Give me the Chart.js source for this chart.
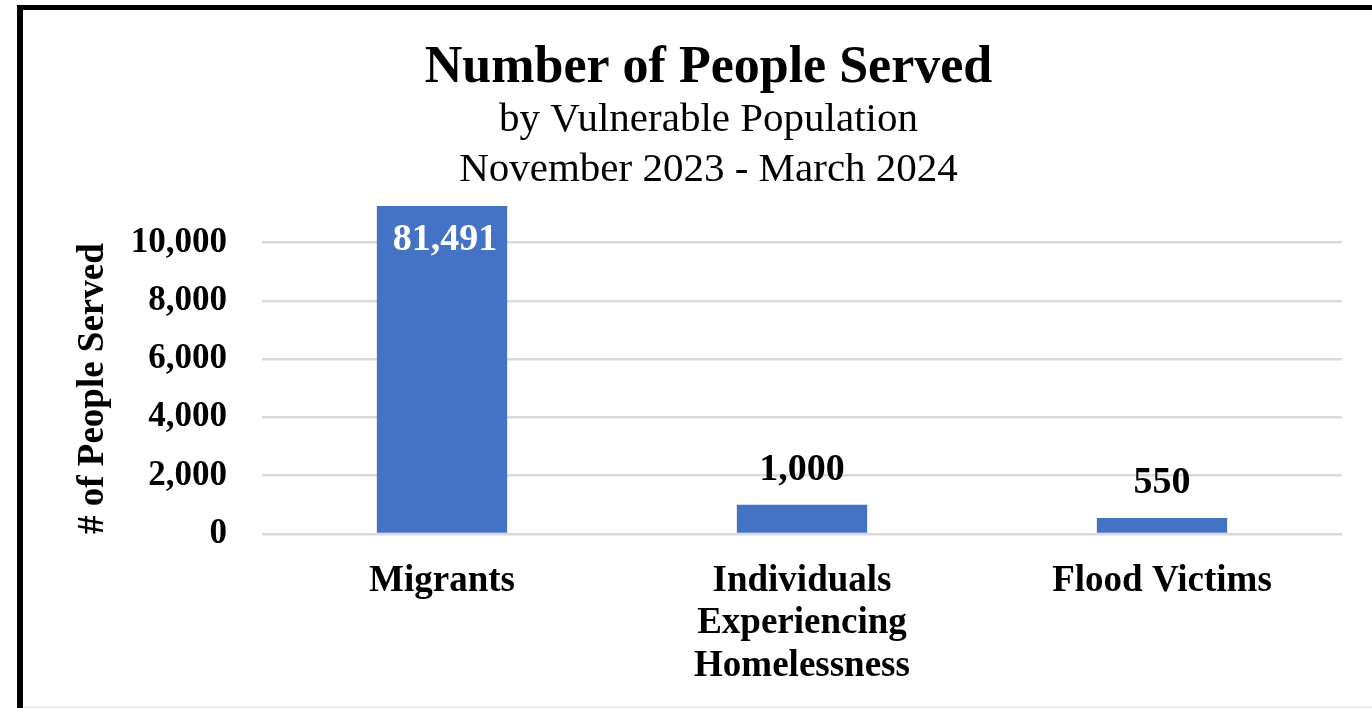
<!DOCTYPE html>
<html>
<head>
<meta charset="utf-8">
<title>Number of People Served</title>
<script src="https://cdn.jsdelivr.net/npm/chart.js@4/dist/chart.umd.min.js"></script>
<style>
  html, body { margin: 0; padding: 0; background: #fff; }
  canvas { display: block; }
</style>
</head>
<body>
<canvas id="grafica" width="1372" height="708"></canvas>
<script>
// Datos del gráfico
const categorias = ['Migrants', ['Individuals', 'Experiencing', 'Homelessness'], 'Flood Victims'];
const personasAtendidas = [81491, 1000, 550];
const marcasEje = [0, 2000, 4000, 6000, 8000, 10000];
const ejeMax = 11250;      // el eje se corta: la barra de Migrants sobrepasa el área

const tituloPrincipal = 'Number of People Served';
const subtitulo = ['by Vulnerable Population', 'November 2023 - March 2024'];
const tituloEjeY = '# of People Served';

const fuente = "'Liberation Serif', 'Times New Roman', serif";
const azul = '#4472C4';

// Marco negro (izquierda y arriba) y fondo blanco
const marco = {
    id: 'marco',
    beforeDraw(chart) {
        const ctx = chart.ctx;
        ctx.save();
        ctx.fillStyle = '#fff';
        ctx.fillRect(0, 0, chart.width, chart.height);
        ctx.fillStyle = '#000';
        ctx.fillRect(17, 5, 6, chart.height - 5);
        ctx.fillRect(17, 5, chart.width - 17, 5);
        ctx.fillStyle = '#ececec';
        ctx.fillRect(23, chart.height - 2, chart.width - 23, 2);
        ctx.restore();
    }
};

// Etiquetas de valor sobre cada barra (dentro si la barra se sale del eje)
const etiquetasValor = {
    id: 'etiquetasValor',
    afterDatasetsDraw(chart) {
        const ctx = chart.ctx;
        const meta = chart.getDatasetMeta(0);
        const yScale = chart.scales.y;
        ctx.save();
        ctx.font = 'bold 38px ' + fuente;
        ctx.textAlign = 'center';
        ctx.textBaseline = 'alphabetic';
        meta.data.forEach((barra, i) => {
            const valor = chart.data.datasets[0].data[i];
            const texto = valor.toLocaleString('en-US');
            if (valor > yScale.max) {
                ctx.fillStyle = '#fff';
                ctx.fillText(texto, barra.x + 3, chart.chartArea.top + 44);
            } else {
                ctx.fillStyle = '#000';
                ctx.fillText(texto, barra.x, barra.y - 25);
            }
        });
        ctx.restore();
    }
};

const canvas = document.getElementById('grafica');
new Chart(canvas, {
    type: 'bar',
    data: {
        labels: categorias,
        datasets: [{
            label: tituloEjeY,
            data: personasAtendidas,
            backgroundColor: azul,
            borderWidth: 0,
            categoryPercentage: 1,
            barPercentage: 0.362
        }]
    },
    options: {
        responsive: false,
        animation: false,
        layout: { padding: { top: 0, left: 75, right: 30, bottom: 0 } },
        plugins: {
            legend: { display: false },
            tooltip: { enabled: false },
            title: {
                display: true,
                text: tituloPrincipal,
                color: '#000',
                font: { family: fuente, size: 52, weight: 'bold', lineHeight: 1 },
                padding: { top: 43, bottom: 0 }
            },
            subtitle: {
                display: true,
                text: subtitulo,
                color: '#000',
                font: { family: fuente, size: 41, weight: 'normal', lineHeight: 1.22 },
                padding: { top: 0, bottom: 11 }
            }
        },
        scales: {
            x: {
                grid: { display: false, drawTicks: false },
                border: { display: false },
                ticks: {
                    color: '#000',
                    padding: 26,
                    maxRotation: 0,
                    autoSkip: false,
                    font: { family: fuente, size: 37, weight: 'bold', lineHeight: 1.15 }
                },
                afterFit(scale) { scale.height = 174; }
            },
            y: {
                min: 0,
                max: ejeMax,
                grid: { color: '#d9d9d9', lineWidth: 2.5, drawTicks: false },
                border: { display: false },
                afterBuildTicks(scale) {
                    scale.ticks = marcasEje.map(v => ({ value: v }));
                },
                ticks: {
                    color: '#000',
                    padding: 35,
                    font: { family: fuente, size: 35, weight: 'bold' },
                    callback: v => v.toLocaleString('en-US')
                },
                title: {
                    display: true,
                    text: tituloEjeY,
                    align: 'start',
                    color: '#000',
                    font: { family: fuente, size: 37, weight: 'bold', lineHeight: 1 },
                    padding: { top: 0, bottom: 0 }
                },
                afterFit(scale) { scale.width = 187; }
            }
        }
    },
    plugins: [marco, etiquetasValor]
});
</script>
</body>
</html>
